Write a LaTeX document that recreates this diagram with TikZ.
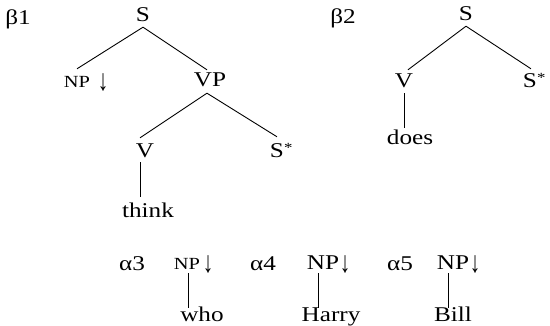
\documentclass[tikz,border=0pt]{standalone}
\usepackage{fontspec}
\setmainfont{Liberation Serif}[FakeStretch=1.2]
\newfontfamily\arrowfont{Liberation Serif}[FakeStretch=0.7]
\usetikzlibrary{calc}
\newcommand{\starsup}{\rlap{\raisebox{5pt}{\fontsize{14}{14}\selectfont *}}}
\begin{document}
\begin{tikzpicture}[x=1pt,y=-1pt,
  every node/.style={inner sep=0pt, anchor=base},
  cat/.style={font=\fontsize{21}{24}\selectfont, text height=13pt, text depth=0pt},
  small/.style={font=\fontsize{17}{19}\selectfont, text height=10pt, text depth=0pt},
  tag/.style={font=\fontsize{21}{24}\selectfont},
  foot/.style={font=\arrowfont\fontsize{30}{32}\selectfont},
  branch/.style={line width=0.9pt}]
\useasboundingbox (0,0) rectangle (550,326);

% beta 1
\node[tag] (b1) at (18,25) {β1};
\node[cat] (S1) at (143,22) {S};
\node[small] (NP1) at (77,88) {NP};
\node[foot] (d1) at (103,91) {↓};
\node[cat] (VP1) at (210,87) {VP};
\node[cat] (V1) at (145,158) {V};
\node[cat] (Sf1) at (277,158) {S\starsup};
\node[cat] (think) at (148,218) {think};

\draw[branch] ($(S1.south)+(0,5)$) -- ($(NP1.north)+(0,-9)$);
\draw[branch] ($(S1.south)+(0,5)$) -- ($(VP1.north)+(-3,-4)$);
\draw[branch] ($(VP1.south)+(-3,6)$) -- ($(V1.north)+(-5,-7)$);
\draw[branch] ($(VP1.south)+(-3,6)$) -- ($(Sf1.north)+(0,-8)$);
\draw[branch] ($(V1.south)+(-5,4)$) -- ($(think.north)+(-8,-8)$);

% beta 2
\node[tag] (b2) at (343,24) {β2};
\node[cat] (S2) at (466,21) {S};
\node[cat] (V2) at (404,88) {V};
\node[cat] (Sf2) at (530,88) {S\starsup};
\node[cat] (does) at (410,145) {does};

\draw[branch] ($(S2.south)+(0,5)$) -- ($(V2.north)+(4,-5)$);
\draw[branch] ($(S2.south)+(0,5)$) -- ($(Sf2.north)+(1,-6)$);
\draw[branch] ($(V2.south)+(0,5)$) -- ($(does.north)+(-6,-4)$);

% alpha trees
\node[tag] (a3) at (132,271) {α3};
\node[small] (NP3) at (187,270) {NP};
\node[foot] (d3) at (208,273) {↓};
\node[cat] (who) at (202,322) {who};
\draw[branch] ($(NP3.south)+(1,3)$) -- ($(who.north)+(-14,-1)$);

\node[tag] (a4) at (263,271) {α4};
\node[cat] (NP4) at (323,270) {NP};
\node[foot] (d4) at (345,273) {↓};
\node[cat] (Harry) at (331,322) {Harry};
\draw[branch] ($(NP4.south)+(-5,3)$) -- ($(Harry.north)+(-13,-1)$);

\node[tag] (a5) at (400,271) {α5};
\node[cat] (NP5) at (453,270) {NP};
\node[foot] (d5) at (475,273) {↓};
\node[cat] (Bill) at (453,322) {Bill};
\draw[branch] ($(NP5.south)+(-5,3)$) -- ($(Bill.north)+(-5,-1)$);
\end{tikzpicture}
\end{document}
